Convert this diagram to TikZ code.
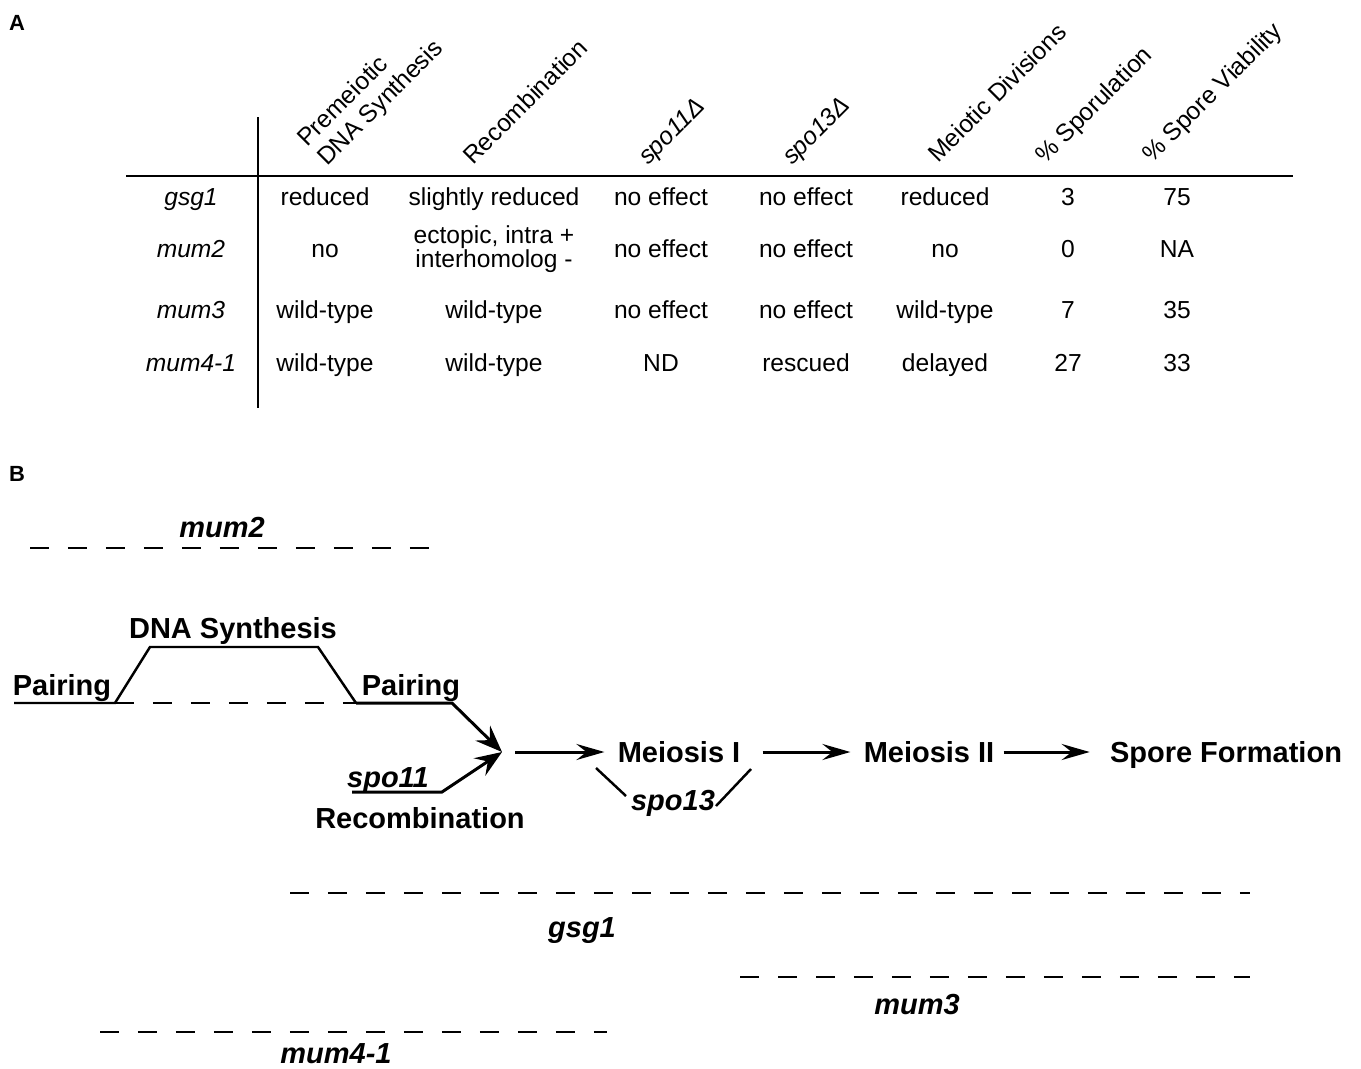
\documentclass[tikz,border=0pt]{standalone}
\usepackage{fontspec}
\setmainfont{Liberation Sans}
\usetikzlibrary{arrows.meta}

\begin{document}
\begin{tikzpicture}[x=0.02cm,y=-0.02cm,
  cell/.style={font=\fontsize{14}{14}\selectfont, inner sep=0pt, anchor=base},
  mutant/.style={cell, font=\fontsize{14}{14}\selectfont\itshape},
  hdr/.style={font=\fontsize{14}{14}\selectfont, inner sep=0pt, rotate=45, anchor=base west},
  stage/.style={font=\fontsize{16.5}{19}\selectfont\bfseries, inner sep=0pt, text height=11.8pt, text depth=0pt},
  gene/.style={stage, font=\fontsize{16.5}{19}\selectfont\bfseries\itshape},
  mutline/.style={line width=1.4pt, dash pattern=on 0.38cm off 0.38cm},
  flow/.style={line width=1.7pt, -{Stealth[length=0.56cm,width=0.32cm,inset=0.2cm]}},
  joinflow/.style={line width=1.7pt, -{Stealth[length=0.54cm,width=0.42cm,inset=0.2cm]}},
  ]
\useasboundingbox (0,0) rectangle (1361,1068);

%panel labels
\node[font=\fontsize{12.5}{14}\selectfont\bfseries] (labA) at (17,23) {A};
\node[font=\fontsize{12.5}{14}\selectfont\bfseries] (labB) at (17,474) {B};

%table rules
\draw[line width=1.3pt] (126,176) -- (1293,176);
\draw[line width=1.2pt] (258,117) -- (258,408);

%column heads
\node[hdr] (h1a) at (307,148) {Premeiotic};
\node[hdr] (h1b) at (327,167) {DNA Synthesis};
\node[hdr] (h2) at (473,166) {Recombination};
\node[hdr] (h3) at (648,166) {\textit{spo11Δ}};
\node[hdr] (h4) at (792,166) {\textit{spo13Δ}};
\node[hdr] (h5) at (938,164) {Meiotic Divisions};
\node[hdr] (h6) at (1045,165) {\% Sporulation};
\node[hdr] (h7) at (1152,164) {\% Spore Viability};

%rows
\foreach \y/\m in {198/gsg1, 250/mum2, 311/mum3, 364/mum4-1}
  \node[mutant] (row-\m) at (191,\y+7) {\m};
\foreach \x/\t [count=\i] in {325/reduced, 494/slightly reduced, 661/no effect, 806/no effect, 945/reduced, 1068/3, 1177/75}
  \node[cell] (gsg1-\i) at (\x,205) {\t};
\foreach \i/\x/\t in {1/325/no, 3/661/no effect, 4/806/no effect, 5/945/no, 6/1068/0, 7/1177/NA}
  \node[cell] (mum2-\i) at (\x,257) {\t};
\node[cell, align=center, anchor=center] (mum2-2) at (494,249) {ectopic, intra +\\interhomolog -};
\foreach \x/\t [count=\i] in {325/wild-type, 494/wild-type, 661/no effect, 806/no effect, 945/wild-type, 1068/7, 1177/35}
  \node[cell] (mum3-\i) at (\x,318) {\t};
\foreach \x/\t [count=\i] in {325/wild-type, 494/wild-type, 661/ND, 806/rescued, 945/delayed, 1068/27, 1177/33}
  \node[cell] (mum4-\i) at (\x,371) {\t};

%pathway
\coordinate (p0) at (14,703);
\coordinate (p1) at (115,703);
\coordinate (p2) at (150,647);
\coordinate (p3) at (318,647);
\coordinate (p4) at (356,703);
\coordinate (p5) at (452,703);
\coordinate (join) at (502,752);
\coordinate (s0) at (352,792);
\coordinate (s1) at (442,792);
\draw[line width=1.4pt] (p0) -- (p1) -- (p2) -- (p3) -- (p4);
\draw[mutline, line width=1.2pt] (p1) -- (p4);
\draw[joinflow] (p4) -- (p5) -- (join);
\draw[joinflow] (s0) -- (s1) -- (join);

\node[stage] (dna) at (233,628) {DNA Synthesis};
\node[stage] (pairL) at (62,685) {Pairing};
\node[stage] (pairR) at (411,685) {Pairing};
\node[gene] (spo11) at (388,777) {spo11};
\node[stage] (rec) at (420,818) {Recombination};
\node[stage] (mei1) at (679,752) {Meiosis I};
\node[stage] (mei2) at (929,752) {Meiosis II};
\node[stage] (spore) at (1226,752) {Spore Formation};
\node[gene] (spo13) at (673,800) {spo13};

\draw[flow, shorten <=0.26cm, shorten >=0.26cm] (join) -- (mei1.west);
\draw[flow, shorten <=0.44cm, shorten >=0.26cm] (mei1.east) -- (mei2.west);
\draw[flow, shorten <=0.18cm, shorten >=0.4cm] (mei2.east) -- (spore.west);
\draw[line width=1.4pt] (596,768) -- (626,796);
\draw[line width=1.4pt] (716,806) -- (751,769);

%mutant blocks
\draw[mutline] (30,548) -- (430,548);
\node[gene] (m2) at (222,527) {mum2};
\draw[mutline] (290,893) -- (1250,893);
\node[gene] (g1) at (582,927) {gsg1};
\draw[mutline] (740,977) -- (1250,977);
\node[gene] (m3) at (917,1004) {mum3};
\draw[mutline] (100,1032) -- (607,1032);
\node[gene] (m4) at (336,1053) {mum4-1};
\end{tikzpicture}
\end{document}
